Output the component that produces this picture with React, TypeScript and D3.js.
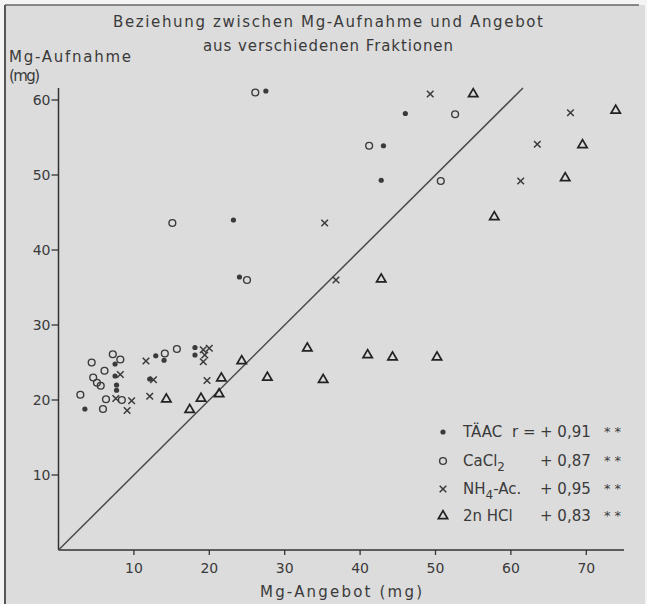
import React, { useEffect, useRef } from "react";
import * as d3 from "d3";

// values: [Mg-Angebot, Mg-Aufnahme] in mg
const taac: [number, number][] = [
  [27.5, 61.2], [46.0, 58.2], [43.1, 53.9], [42.8, 49.3], [23.2, 44.0], [24.0, 36.4],
  [3.5, 18.8], [7.5, 24.8], [7.5, 23.2], [7.7, 22.0], [7.7, 21.3], [12.9, 25.9],
  [14.0, 25.3], [12.1, 22.8], [18.1, 27.0], [18.1, 26.0],
];
const cacl2: [number, number][] = [
  [26.1, 61.0], [52.6, 58.1], [41.2, 53.9], [50.7, 49.2], [15.1, 43.6], [25.0, 36.0],
  [4.4, 25.0], [7.2, 26.1], [8.2, 25.4], [6.1, 23.9], [4.6, 23.0], [5.1, 22.3],
  [5.6, 21.9], [2.9, 20.7], [5.9, 18.8], [6.3, 20.1], [8.4, 20.0], [14.1, 26.2], [15.7, 26.8],
];
const nh4ac: [number, number][] = [
  [49.3, 60.8], [67.9, 58.3], [63.5, 54.1], [61.3, 49.2], [35.3, 43.6], [36.8, 36.0],
  [11.6, 25.2], [8.2, 23.4], [7.6, 20.2], [9.7, 19.9], [9.1, 18.6], [12.6, 22.7],
  [12.1, 20.5], [19.2, 26.7], [20.0, 26.9], [19.4, 26.0], [19.2, 25.1], [19.7, 22.6],
];
const hcl: [number, number][] = [
  [55.0, 60.8], [73.9, 58.6], [69.5, 54.0], [67.2, 49.6], [57.8, 44.4], [42.8, 36.1],
  [24.3, 25.2], [33.0, 26.9], [27.7, 23.0], [35.1, 22.7], [41.0, 26.0], [44.3, 25.7],
  [50.2, 25.7], [14.3, 20.1], [21.6, 22.9], [18.9, 20.2], [21.3, 20.8], [17.4, 18.7],
];
const xTicks = [10, 20, 30, 40, 50, 60, 70];
const yTicks = [10, 20, 30, 40, 50, 60];
const diagonal: [number, number][] = [[0, 0], [61.6, 61.6]];
const legendNames = ["TÄAC", "CaCl", "NH", "2n HCl"];
const legendR = ["+ 0,91", "+ 0,87", "+ 0,95", "+ 0,83"];

const W = 647, H = 604;
const FONT = "'DejaVu Sans', sans-serif";
const INK = "#3a3a3a";

function drawMark(g: any, kind: string, cx: number, cy: number) {
  if (kind === "dot") {
    g.append("circle").attr("cx", cx).attr("cy", cy).attr("r", 2.6).attr("fill", INK);
  } else if (kind === "circle") {
    g.append("circle").attr("cx", cx).attr("cy", cy).attr("r", 3.4)
      .attr("fill", "none").attr("stroke", INK).attr("stroke-width", 1.4);
  } else if (kind === "cross") {
    const s = 3.3;
    g.append("path")
      .attr("d", `M${cx - s},${cy - s}L${cx + s},${cy + s}M${cx - s},${cy + s}L${cx + s},${cy - s}`)
      .attr("stroke", INK).attr("stroke-width", 1.5);
  } else {
    g.append("path")
      .attr("transform", `translate(${cx},${cy})`)
      .attr("d", d3.symbol(d3.symbolTriangle, 38)())
      .attr("fill", "none").attr("stroke", "#222").attr("stroke-width", 1.7);
  }
}

export default function App() {
  const ref = useRef<SVGSVGElement | null>(null);

  useEffect(() => {
    const svg = d3.select(ref.current);
    svg.selectAll("*").remove();

    // scanned page
    svg.append("rect").attr("width", W).attr("height", H).attr("fill", "#f4f4f4");
    svg.append("rect").attr("x", 6).attr("y", 5).attr("width", W - 8).attr("height", H - 5).attr("fill", "#dcdcdc");
    svg.append("line").attr("x1", 5).attr("x2", 5).attr("y1", 5).attr("y2", H).attr("stroke", "#555").attr("stroke-width", 2);
    svg.append("line").attr("x1", 5).attr("x2", W - 8).attr("y1", 5).attr("y2", 5).attr("stroke", "#666").attr("stroke-width", 1.5);

    const x = d3.scaleLinear().domain([0, 75]).range([58.5, 624]);
    const y = d3.scaleLinear().domain([0, 61.6]).range([550, 88]);

    const axes = svg.append("g").attr("font-family", FONT).attr("fill", INK);

    // axes
    axes.append("line").attr("x1", x(0)).attr("x2", x(75)).attr("y1", y(0)).attr("y2", y(0))
      .attr("stroke", "#333").attr("stroke-width", 1.5);
    axes.append("line").attr("x1", x(0)).attr("x2", x(0)).attr("y1", y(0)).attr("y2", y(61.6))
      .attr("stroke", "#333").attr("stroke-width", 1.5);

    xTicks.forEach((t) => {
      axes.append("line").attr("x1", x(t)).attr("x2", x(t)).attr("y1", y(0)).attr("y2", y(0) + 5)
        .attr("stroke", "#333").attr("stroke-width", 1.3);
      axes.append("text").attr("x", x(t)).attr("y", 573).attr("text-anchor", "middle")
        .attr("font-size", 14).text(String(t));
    });
    yTicks.forEach((t) => {
      axes.append("line").attr("x1", x(0) - 7).attr("x2", x(0)).attr("y1", y(t)).attr("y2", y(t))
        .attr("stroke", "#333").attr("stroke-width", 1.3);
      axes.append("text").attr("x", x(0) - 8).attr("y", y(t) + 5).attr("text-anchor", "end")
        .attr("font-size", 14).text(String(t));
    });

    // titles
    const label = (tx: number, ty: number, s: string, len: number, anchor = "start") =>
      axes.append("text").attr("x", tx).attr("y", ty).attr("text-anchor", anchor)
        .attr("font-size", 15).attr("textLength", len).attr("lengthAdjust", "spacing").text(s);
    label(328, 27, "Beziehung zwischen Mg-Aufnahme und Angebot", 430, "middle");
    label(328, 51, "aus verschiedenen Fraktionen", 250, "middle");
    label(9, 62, "Mg-Aufnahme", 122);
    label(9, 81, "(mg)", 31);
    label(341, 597, "Mg-Angebot (mg)", 162, "middle");

    // 1:1 line
    svg.append("path")
      .attr("d", d3.line()(diagonal.map((d) => [x(d[0]), y(d[1])] as [number, number])))
      .attr("stroke", "#4a4a4a").attr("stroke-width", 1.5).attr("fill", "none");

    // points
    const pts = svg.append("g");
    const series: [string, [number, number][]][] = [
      ["dot", taac], ["circle", cacl2], ["cross", nh4ac], ["triangle", hcl],
    ];
    series.forEach(([kind, data]) => {
      data.forEach((d) => drawMark(pts, kind, x(d[0]), y(d[1])));
    });

    // legend
    const lg = svg.append("g").attr("font-family", FONT).attr("fill", INK).attr("font-size", 15);
    const rowY = [432, 461, 489, 516];
    series.forEach(([kind], i) => {
      drawMark(lg, kind, 443, rowY[i]);
      const t = lg.append("text").attr("x", 463).attr("y", rowY[i] + 5);
      t.append("tspan").text(legendNames[i]);
      if (i === 1) t.append("tspan").attr("dy", 5).attr("font-size", 12).text("2");
      if (i === 2) {
        t.append("tspan").attr("dy", 5).attr("font-size", 12).text("4");
        t.append("tspan").attr("dy", -5).text("-Ac.");
      }
      if (i === 0) lg.append("text").attr("x", 512).attr("y", rowY[i] + 5).text("r =");
      lg.append("text").attr("x", 540).attr("y", rowY[i] + 5).text(legendR[i]);
      lg.append("text").attr("x", 604).attr("y", rowY[i] + 4).attr("font-size", 13)
        .attr("letter-spacing", 4).text("**");
    });
  }, []);

  return (
    <div style={{ position: "absolute", left: 0, top: 0 }}>
      <svg ref={ref} width={W} height={H} />
    </div>
  );
}
